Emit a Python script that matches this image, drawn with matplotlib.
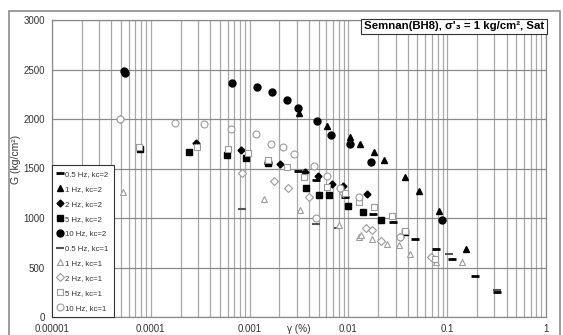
import matplotlib.pyplot as plt
from matplotlib.ticker import LogLocator, FixedLocator
from matplotlib.patches import Rectangle

plt.rcParams['font.family'] = ['Liberation Sans', 'DejaVu Sans']

# shear strain (%) and shear modulus G (kg/cm2), kc = 2
g05_k2_x = [1.52e-3, 3.09e-3, 4.7e-3, 9.16e-3, 1.76e-2, 2.84e-2, 4.69e-2, 7.76e-2, 0.111, 0.191, 0.321]
g05_k2_y = [1558, 1478, 1384, 1209, 1040, 963, 791, 690, 586, 414, 256]

g1_k2_x = [3.16e-3, 6.07e-3, 1.04e-2, 1.31e-2, 1.81e-2, 2.3e-2, 3.76e-2, 5.19e-2, 8.26e-2, 0.154]
g1_k2_y = [2057, 1929, 1821, 1747, 1663, 1586, 1417, 1276, 1074, 687]

g2_k2_x = [2.84e-4, 8.24e-4, 2.03e-3, 3.6e-3, 4.92e-3, 6.82e-3, 8.81e-3, 1.55e-2]
g2_k2_y = [1754, 1687, 1545, 1468, 1424, 1343, 1323, 1242]

g5_k2_x = [7.8e-5, 2.41e-4, 5.9e-4, 9.2e-4, 1.54e-3, 3.72e-3, 5.06e-3, 6.37e-3, 9.97e-3, 1.4e-2, 2.15e-2, 3.76e-2]
g5_k2_y = [1695, 1670, 1640, 1603, 1552, 1300, 1232, 1232, 1121, 1057, 980, 862]

g10_k2_x = [5.3e-5, 5.5e-5, 6.68e-4, 1.19e-3, 1.68e-3, 2.41e-3, 3.09e-3, 4.81e-3, 6.67e-3, 1.04e-2, 1.68e-2, 8.93e-2]
g10_k2_y = [2480, 2460, 2363, 2320, 2272, 2192, 2108, 1983, 1835, 1747, 1565, 977]

# kc = 1
g05_k1_x = [8.45e-4, 4.7e-3, 7.76e-3, 0.104, 0.32]
g05_k1_y = [1088, 936, 902, 636, 270]

g1_k1_x = [5.26e-5, 1.4e-3, 3.22e-3, 7.94e-3, 1.29e-2, 1.33e-2, 1.73e-2, 2.44e-2, 3.22e-2, 4.25e-2, 7.76e-2, 0.141]
g1_k1_y = [1259, 1189, 1081, 929, 810, 830, 788, 734, 727, 636, 559, 559]

g2_k1_x = [4.91e-5, 8.45e-4, 1.77e-3, 2.45e-3, 3.97e-3, 8.9e-3, 1.49e-2, 1.73e-2, 2.12e-2, 3.3e-2, 6.84e-2]
g2_k1_y = [2000, 1458, 1377, 1300, 1215, 1249, 896, 879, 771, 805, 609]

g5_k1_x = [7.6e-5, 2.92e-4, 6.1e-4, 9.6e-4, 1.52e-3, 2.41e-3, 3.56e-3, 6.07e-3, 9.16e-3, 1.27e-2, 1.81e-2, 2.74e-2, 3.7e-2, 7.55e-2]
g5_k1_y = [1720, 1720, 1694, 1659, 1586, 1518, 1417, 1316, 1255, 1165, 1108, 1023, 866, 590]

g10_k1_x = [4.83e-5, 1.75e-4, 3.45e-4, 6.41e-4, 1.15e-3, 1.65e-3, 2.18e-3, 2.79e-3, 4.51e-3, 4.7e-3, 6.07e-3, 8.3e-3, 1.28e-2, 3.3e-2]
g10_k1_y = [2000, 1962, 1946, 1896, 1848, 1747, 1714, 1646, 1528, 997, 1424, 1300, 1209, 809]

fig = plt.figure(figsize=(5.63, 3.35), dpi=100)
fig.patches.append(Rectangle((9 / 563, -0.05), 551 / 563, 1.05 - 11 / 335,
                             transform=fig.transFigure, fill=False,
                             edgecolor='#8c8c8c', linewidth=1.2))
ax = fig.add_axes([52 / 563, 1 - 317 / 335, 494 / 563, 297 / 335])

dark = '#000000'
gray = '#9a9a9a'
ax.plot(g05_k2_x, g05_k2_y, ls='none', marker='_', ms=6, mew=2, color=dark, label='0.5 Hz, kc=2')
ax.plot(g1_k2_x, g1_k2_y, ls='none', marker='^', ms=4.5, color=dark, label='1 Hz, kc=2')
ax.plot(g2_k2_x, g2_k2_y, ls='none', marker='D', ms=3.5, color=dark, label='2 Hz, kc=2')
ax.plot(g5_k2_x, g5_k2_y, ls='none', marker='s', ms=4, color=dark, label='5 Hz, kc=2')
ax.plot(g10_k2_x, g10_k2_y, ls='none', marker='o', ms=5, color=dark, label='10 Hz, kc=2')
ax.plot(g05_k1_x, g05_k1_y, ls='none', marker='_', ms=6, mew=1.5, color='#555555', label='0.5 Hz, kc=1')
ax.plot(g1_k1_x, g1_k1_y, ls='none', marker='^', ms=5, mfc='white', mec=gray, mew=0.8, label='1 Hz, kc=1')
ax.plot(g2_k1_x, g2_k1_y, ls='none', marker='D', ms=4, mfc='white', mec=gray, mew=0.8, label='2 Hz, kc=1')
ax.plot(g5_k1_x, g5_k1_y, ls='none', marker='s', ms=4.5, mfc='white', mec=gray, mew=0.8, label='5 Hz, kc=1')
ax.plot(g10_k1_x, g10_k1_y, ls='none', marker='o', ms=5, mfc='white', mec=gray, mew=0.8, label='10 Hz, kc=1')

ax.set_xscale('log')
ax.set_xlim(1e-5, 1)
ax.set_ylim(0, 3000)
ax.xaxis.set_major_locator(FixedLocator([1e-5, 1e-4, 1e-3, 1e-2, 1e-1, 1]))
ax.xaxis.set_minor_locator(LogLocator(base=10, subs=range(2, 10), numticks=20))
ax.set_xticklabels(['0.00001', '0.0001', '0.001', '0.01', '0.1', '1'])
ax.set_yticks(range(0, 3001, 500))
ax.xaxis.set_minor_formatter(plt.NullFormatter())

ax.grid(True, which='both', axis='x', color='#a8a8a8', linewidth=0.9)
ax.grid(True, which='major', axis='y', color='#8a8a8a', linewidth=0.9)
ax.set_axisbelow(True)
for s in ax.spines.values():
    s.set_color('#8a8a8a')
    s.set_linewidth(0.9)
ax.tick_params(which='both', length=0, labelsize=7, colors='#333333', pad=5)

ax.set_xlabel('γ (%)', fontsize=7.2, color='#333333')
ax.xaxis.set_label_coords(0.5, -0.022)
ax.set_ylabel('G (kg/cm²)', fontsize=7.5, color='#333333')
ax.yaxis.set_label_coords(-0.062, 0.53)

ax.text(0.997, 0.995, "Semnan(BH8), σ'₃ = 1 kg/cm², Sat", transform=ax.transAxes,
        ha='right', va='top', fontsize=8.2, fontweight='bold',
        bbox=dict(boxstyle='square,pad=0.25', facecolor='white', edgecolor='#333333', linewidth=0.8))

leg = ax.legend(loc='lower left', bbox_to_anchor=(0, 0), borderaxespad=0, fontsize=5.6,
                handlelength=0.7, handletextpad=0.3, labelspacing=0.95, borderpad=0.7,
                fancybox=False, framealpha=1, edgecolor='#333333')
leg.get_frame().set_linewidth(0.8)
for t in leg.get_texts():
    t.set_color('#333333')

fig.savefig('out.png', dpi=100)
